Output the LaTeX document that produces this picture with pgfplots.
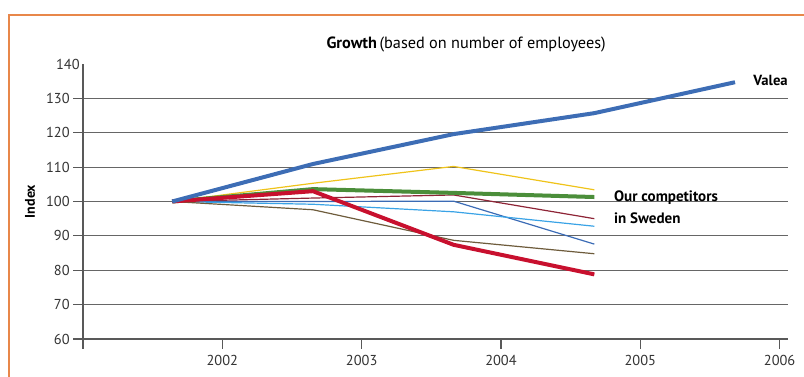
\documentclass[border=0pt]{standalone}
\usepackage{pgfplots}
\pgfplotsset{compat=1.18}
\usepackage{fontspec}
\setmainfont{PT Sans}
\definecolor{frameor}{HTML}{E8874A}
\definecolor{valea}{HTML}{3D6DB5}
\definecolor{cgreen}{HTML}{4B8E3A}
\definecolor{cred}{HTML}{C8102E}
\definecolor{cyellow}{HTML}{EFC31A}
\definecolor{cdarkred}{HTML}{8E2436}
\definecolor{clblue}{HTML}{3AA3E6}
\definecolor{cblue}{HTML}{3B6BB5}
\definecolor{cbrown}{HTML}{6E5C3C}
\definecolor{txt}{HTML}{333333}
\begin{document}
\begin{tikzpicture}
\begin{axis}[
  scale only axis,
  width=528.75pt, height=206.25pt,
  xmin=2001, xmax=2006.06,
  ymin=60, ymax=140,
  axis x line*=bottom, axis y line*=left,
  axis line style={draw=black!65, line width=0.8pt},
  xtick={2001,2002,2003,2004,2005,2006},
  xticklabels={,2002,2003,2004,2005,2006},
  ytick={60,70,...,130},
  extra y ticks={140},
  extra y tick style={major tick length=0pt, ymajorgrids=false},
  tick align=outside,
  major tick length=7.5pt,
  tick style={draw=black!65, line width=0.8pt},
  ymajorgrids,
  grid style={draw=black!60, line width=0.8pt},
  /pgf/number format/assume math mode=true,
  /pgf/number format/1000 sep={},
  ticklabel style={font=\fontsize{10.8}{12}\selectfont, text=txt},
  xticklabel style={yshift=-1pt},
  yticklabel style={xshift=1pt},
  clip=false,
]
% thin competitor lines
\addplot[cyellow, line width=0.9pt] coordinates {(2001.64,100) (2002.65,105.3) (2003.66,110.2) (2004.67,103.4)};
\addplot[cdarkred, line width=0.9pt] coordinates {(2001.64,100) (2002.65,101.0) (2003.66,101.9) (2004.67,95.0)};
\addplot[cblue, line width=0.9pt] coordinates {(2001.64,100) (2002.65,100.0) (2003.66,100.1) (2004.67,87.6)};
\addplot[clblue, line width=0.9pt] coordinates {(2001.64,100) (2002.65,99.2) (2003.66,97.0) (2004.67,92.8)};
\addplot[cbrown, line width=0.9pt] coordinates {(2001.64,100) (2002.65,97.6) (2003.66,88.7) (2004.67,84.8)};
% thick lines
\addplot[cgreen, line width=3pt] coordinates {(2001.64,100) (2002.65,103.6) (2003.66,102.5) (2004.67,101.3)};
\addplot[cred, line width=3pt] coordinates {(2001.64,100) (2002.65,103.0) (2003.66,87.4) (2004.67,78.8)};
\addplot[valea, line width=3pt] coordinates {(2001.64,100) (2002.65,110.9) (2003.66,119.6) (2004.67,125.7) (2005.68,134.7)};
% labels
\node[anchor=west, font=\bfseries\fontsize{11}{12}\selectfont, inner sep=0pt] at (axis cs:2005.81,135.3) {Valea};
\node[anchor=west, font=\bfseries\fontsize{11.3}{12}\selectfont, inner sep=0pt] at (axis cs:2004.81,101.0) {Our competitors};
\node[anchor=west, font=\bfseries\fontsize{11.3}{12}\selectfont, inner sep=0pt] at (axis cs:2004.81,95.2) {in Sweden};
\node[font=\fontsize{12.2}{13}\selectfont, inner sep=0pt] at (axis cs:2003.75,145.6) {\textbf{Growth}\,(based on number of employees)};
\node[rotate=90, font=\bfseries\fontsize{10.5}{12}\selectfont, inner sep=0pt] at (axis cs:2000.62,100) {Index};
\end{axis}
\pgfresetboundingbox
\useasboundingbox (-62.25pt,-28.5pt) rectangle (540.75pt,254.25pt);
\draw[frameor, line width=1.1pt] (-55.5pt,-30pt) -- (-55.5pt,243pt) -- (542pt,243pt);
\end{tikzpicture}
\end{document}
